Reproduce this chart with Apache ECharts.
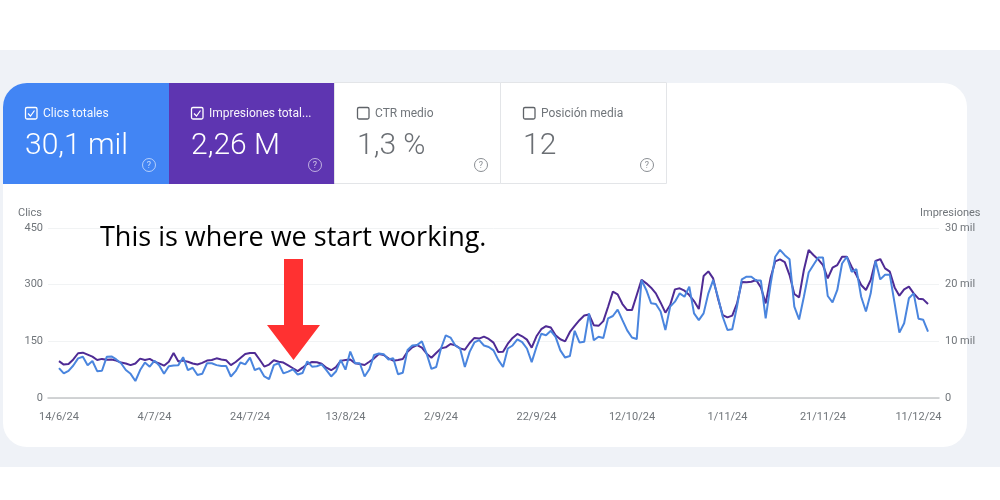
<!DOCTYPE html>
<html><head><meta charset="utf-8">
<style>html,body{margin:0;padding:0;background:#fff}#main{width:1000px;height:500px}</style>
<script src="https://cdn.jsdelivr.net/npm/echarts@6/dist/echarts.min.js"></script>
</head><body><div id="main"></div>
<script>
const tickIndex = [0,20,40,60,80,100,120,140,160,180];
const tickLabels = ['14/6/24','4/7/24','24/7/24','13/8/24','2/9/24','22/9/24','12/10/24','1/11/24','21/11/24','11/12/24'];
const clicks = [79,65,72,86,105,109,87,98,71,72,109,110,102,92,74,64,45,74,94,83,99,86,64,84,86,87,108,74,80,61,64,92,92,87,85,85,57,71,94,89,107,74,79,57,50,87,92,65,70,76,62,66,97,83,84,89,74,57,70,101,75,123,
92,92,57,76,114,118,116,102,105,63,67,127,139,140,
150,117,77,82,131,166,160,139,131,82,122,147,153,139,135,126,101,82,131,139,155,148,131,95,135,170,166,178,162,126,107,111,178,147,149,224,153,162,159,211,217,234,206,179,160,156,
312,286,251,249,229,180,242,255,277,268,295,224,206,224,277,312,268,215,180,182,242,314,321,321,311,311,211,299,374,392,378,367,242,208,268,332,352,372,372,270,253,286,356,374,334,341,268,229,277,363,314,326,326,251,173,198,264,277,210,207,176];
const impressions = [6500,5900,6000,6800,7900,8000,7650,7300,6700,6900,6750,6800,6600,6250,6100,5800,6100,6950,6700,6900,6400,6100,5700,6400,7950,6450,6600,6400,6100,5900,6200,6600,6700,7000,6800,6650,5800,6350,7050,7750,7950,7950,6800,5550,5900,6650,6400,6250,5750,5250,4750,5350,6000,6350,6300,6050,5350,4900,5450,6550,6700,6800,
6120,6000,5830,6400,7000,7770,7590,7000,6590,6700,6880,8180,8940,9350,
8880,7810,7100,7930,8760,8940,9530,9290,8760,8520,9710,10600,10480,10830,10420,9770,8110,8170,9590,10600,11310,10890,10300,8880,10890,12140,12670,12430,11070,10360,10000,11660,12730,13730,14560,14740,12850,12730,13560,16100,18770,18290,16580,15510,15510,18170,
20870,20230,19470,18470,16820,15060,16410,19170,19350,18940,18170,17110,15700,21520,22350,21110,17580,14640,14230,14530,16700,20470,20410,20520,20820,19520,16700,21110,24110,24460,23990,21700,18350,17760,22580,26110,25230,24460,23460,21110,22990,23460,24930,24930,23170,21700,19940,19050,20820,24170,24520,22880,22290,19520,18050,19170,19640,18470,17530,17410,16580];
const tiles = [
 {label:'Clics totales',value:'30,1 mil',bg:'#4285f4',on:true},
 {label:'Impresiones total...',value:'2,26 M',bg:'#5e35b1',on:true},
 {label:'CTR medio',value:'1,3 %',bg:'#ffffff',on:false},
 {label:'Posición media',value:'12',bg:'#ffffff',on:false}
];
const FONT='Roboto';
const g=[];
g.push({type:'rect',z:0,shape:{x:0,y:50,width:1000,height:417},style:{fill:'#eff2f7'}});
g.push({type:'rect',z:0,shape:{x:3,y:83,width:964,height:364,r:24},style:{fill:'#ffffff'}});
tiles.forEach((t,k)=>{
  const x=3+166*k, c=t.on?'#ffffff':'#5f6368';
  g.push({type:'rect',z:1,shape:{x:t.on?x:x-0.5,y:t.on?83:82.5,width:166,height:t.on?101:101,r:k===0?[24,0,0,0]:0},
    style:t.on?{fill:t.bg}:{fill:'#fff',stroke:'#e3e5e8',lineWidth:1}});
  g.push({type:'rect',z:2,shape:{x:x+22.5,y:107.5,width:11.5,height:11.5,r:1.5},style:{fill:'none',stroke:c,lineWidth:1.3}});
  if(t.on) g.push({type:'polyline',z:2,shape:{points:[[x+25,113.5],[x+27.5,116],[x+31.5,110.5]]},style:{fill:'none',stroke:c,lineWidth:1.2}});
  g.push({type:'text',z:2,style:{x:x+40,y:114,text:t.label,fill:t.on?'rgba(255,255,255,0.95)':'#70757a',font:'12px '+FONT,verticalAlign:'middle'}});
  g.push({type:'text',z:2,style:{x:x+22,y:146.5,text:t.value,fill:t.on?'#fff':'#6b6f74',font:'300 30px '+FONT,verticalAlign:'middle'}});
  g.push({type:'circle',z:2,shape:{cx:x+146,cy:165,r:6.5},style:{fill:'none',stroke:t.on?'rgba(255,255,255,0.6)':'#8a8e93',lineWidth:1}});
  g.push({type:'text',z:2,style:{x:x+146,y:165.5,text:'?',fill:t.on?'rgba(255,255,255,0.7)':'#8a8e93',font:'9px '+FONT,align:'center',verticalAlign:'middle'}});
});
g.push({type:'text',z:3,style:{x:18,y:213,text:'Clics',fill:'#70757a',font:'11px '+FONT,verticalAlign:'middle'}});
g.push({type:'text',z:3,style:{x:920,y:213,text:'Impresiones',fill:'#70757a',font:'11px '+FONT,verticalAlign:'middle'}});
g.push({type:'text',z:100,style:{x:100,y:238,text:'This is where we start working.',fill:'#000',font:'27px "Open Sans"',verticalAlign:'middle'}});
g.push({type:'polygon',z:100,shape:{points:[[284,259],[303,259],[303,325],[320,325],[293.5,360],[267,325],[284,325]]},style:{fill:'#ff3131'}});

const chart=echarts.init(document.getElementById('main'),null,{renderer:'canvas'});
chart.setOption({
  animation:false,
  graphic:{elements:g},
  grid:{left:48,right:61,top:228,bottom:102,containLabel:false},
  xAxis:{type:'value',min:-2.3,max:184.3,
    splitLine:{show:false},axisTick:{show:false},
    axisLine:{show:true,lineStyle:{color:'#c4c6c8',width:1.5}},
    axisLabel:{customValues:tickIndex,formatter:v=>tickLabels[tickIndex.indexOf(v)]||'',color:'#70757a',fontFamily:FONT,fontSize:11,margin:14}},
  yAxis:[
   {type:'value',min:0,max:450,interval:150,axisLine:{show:false},axisTick:{show:false},
    splitLine:{lineStyle:{color:'#f1f3f4',width:1}},
    axisLabel:{color:'#70757a',fontFamily:FONT,fontSize:11,margin:5,padding:[2,0,0,0]}},
   {type:'value',min:0,max:30000,interval:10000,axisLine:{show:false},axisTick:{show:false},splitLine:{show:false},
    axisLabel:{color:'#70757a',fontFamily:FONT,fontSize:11,margin:6,padding:[2,0,0,0],formatter:v=>v===0?'0':(v/1000)+' mil'}}
  ],
  series:[
   {type:'line',name:'Impresiones',yAxisIndex:1,data:impressions.map((v,i)=>[i,v]),showSymbol:false,lineStyle:{color:'#4f2b94',width:2},z:3},
   {type:'line',name:'Clics',yAxisIndex:0,data:clicks.map((v,i)=>[i,v]),showSymbol:false,lineStyle:{color:'#4a85de',width:2},z:4}
  ]
});
</script></body></html>
